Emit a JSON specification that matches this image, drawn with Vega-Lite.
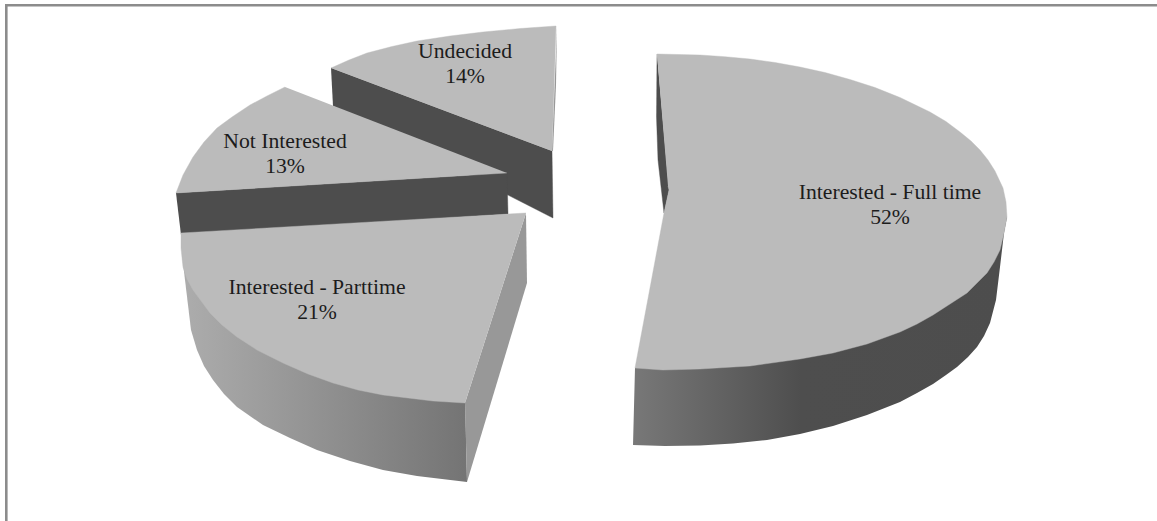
{
"$schema":"https://vega.github.io/schema/vega-lite/v6.json",
"width":1157,"height":521,"padding":0,
"autosize":{"type":"none"},
"background":"#ffffff",
"view":{"stroke":null},
"data":{"name":"slices","values":[
{"slice":"Frame","face":"frame","n":1,"across":6.3,"down":521},
{"slice":"Frame","face":"frame","n":2,"across":6.3,"down":5.2},
{"slice":"Frame","face":"frame","n":3,"across":1157,"down":5.2},

{"slice":"Undecided","face":"dark","n":1,"across":331,"down":68},
{"slice":"Undecided","face":"dark","n":2,"across":552,"down":151},
{"slice":"Undecided","face":"dark","n":3,"across":553,"down":218},
{"slice":"Undecided","face":"dark","n":4,"across":333,"down":106},
{"slice":"Not Interested","face":"dark","n":1,"across":176,"down":193},
{"slice":"Not Interested","face":"dark","n":2,"across":507,"down":173},
{"slice":"Not Interested","face":"dark","n":3,"across":508,"down":214},
{"slice":"Not Interested","face":"dark","n":4,"across":181,"down":235},
{"slice":"Interested - Full time","face":"dark","n":1,"across":657,"down":54},
{"slice":"Interested - Full time","face":"dark","n":2,"across":656.5,"down":117},
{"slice":"Interested - Full time","face":"dark","n":3,"across":658,"down":160},
{"slice":"Interested - Full time","face":"dark","n":4,"across":664,"down":213},
{"slice":"Interested - Full time","face":"dark","n":5,"across":669,"down":190},

{"slice":"Undecided","face":"cut","n":1,"across":557,"down":26},
{"slice":"Undecided","face":"cut","n":2,"across":556,"down":85},
{"slice":"Undecided","face":"cut","n":3,"across":553,"down":151},
{"slice":"Undecided","face":"cut","n":4,"across":552,"down":151},
{"slice":"Interested - Parttime","face":"cut","n":1,"across":526,"down":213},
{"slice":"Interested - Parttime","face":"cut","n":2,"across":527,"down":283},
{"slice":"Interested - Parttime","face":"cut","n":3,"across":467,"down":482},
{"slice":"Interested - Parttime","face":"cut","n":4,"across":465,"down":403},

{"slice":"Interested - Full time","face":"outer","n":1,"across":1007,"down":217},
{"slice":"Interested - Full time","face":"outer","n":2,"across":1004,"down":233},
{"slice":"Interested - Full time","face":"outer","n":3,"across":1000,"down":267},
{"slice":"Interested - Full time","face":"outer","n":4,"across":996,"down":300},
{"slice":"Interested - Full time","face":"outer","n":5,"across":990,"down":323},
{"slice":"Interested - Full time","face":"outer","n":6,"across":984,"down":336},
{"slice":"Interested - Full time","face":"outer","n":7,"across":977,"down":347},
{"slice":"Interested - Full time","face":"outer","n":8,"across":968,"down":357},
{"slice":"Interested - Full time","face":"outer","n":9,"across":957,"down":367},
{"slice":"Interested - Full time","face":"outer","n":10,"across":946,"down":375},
{"slice":"Interested - Full time","face":"outer","n":11,"across":933,"down":384},
{"slice":"Interested - Full time","face":"outer","n":12,"across":917,"down":393},
{"slice":"Interested - Full time","face":"outer","n":13,"across":900,"down":402},
{"slice":"Interested - Full time","face":"outer","n":14,"across":867,"down":415},
{"slice":"Interested - Full time","face":"outer","n":15,"across":833,"down":426},
{"slice":"Interested - Full time","face":"outer","n":16,"across":800,"down":434},
{"slice":"Interested - Full time","face":"outer","n":17,"across":767,"down":440},
{"slice":"Interested - Full time","face":"outer","n":18,"across":733,"down":443.5},
{"slice":"Interested - Full time","face":"outer","n":19,"across":700,"down":445.5},
{"slice":"Interested - Full time","face":"outer","n":20,"across":665,"down":446},
{"slice":"Interested - Full time","face":"outer","n":21,"across":633,"down":445},
{"slice":"Interested - Full time","face":"outer","n":22,"across":635,"down":368},

{"slice":"Interested - Parttime","face":"outer","n":1,"across":181,"down":235},
{"slice":"Interested - Parttime","face":"outer","n":2,"across":183,"down":263},
{"slice":"Interested - Parttime","face":"outer","n":3,"across":185,"down":280},
{"slice":"Interested - Parttime","face":"outer","n":4,"across":188,"down":305},
{"slice":"Interested - Parttime","face":"outer","n":5,"across":191,"down":330},
{"slice":"Interested - Parttime","face":"outer","n":6,"across":197,"down":350},
{"slice":"Interested - Parttime","face":"outer","n":7,"across":204,"down":366},
{"slice":"Interested - Parttime","face":"outer","n":8,"across":213,"down":380},
{"slice":"Interested - Parttime","face":"outer","n":9,"across":224,"down":394},
{"slice":"Interested - Parttime","face":"outer","n":10,"across":237,"down":407},
{"slice":"Interested - Parttime","face":"outer","n":11,"across":263,"down":425},
{"slice":"Interested - Parttime","face":"outer","n":12,"across":290,"down":438},
{"slice":"Interested - Parttime","face":"outer","n":13,"across":317,"down":450},
{"slice":"Interested - Parttime","face":"outer","n":14,"across":350,"down":461},
{"slice":"Interested - Parttime","face":"outer","n":15,"across":383,"down":470},
{"slice":"Interested - Parttime","face":"outer","n":16,"across":417,"down":476},
{"slice":"Interested - Parttime","face":"outer","n":17,"across":467,"down":482},
{"slice":"Interested - Parttime","face":"outer","n":18,"across":465,"down":395},

{"slice":"Undecided","face":"top","n":1,"across":331,"down":68},
{"slice":"Undecided","face":"top","n":2,"across":349,"down":60},
{"slice":"Undecided","face":"top","n":3,"across":367,"down":53},
{"slice":"Undecided","face":"top","n":4,"across":392,"down":46.5},
{"slice":"Undecided","face":"top","n":5,"across":417,"down":41},
{"slice":"Undecided","face":"top","n":6,"across":450,"down":36},
{"slice":"Undecided","face":"top","n":7,"across":483,"down":32},
{"slice":"Undecided","face":"top","n":8,"across":520,"down":28.5},
{"slice":"Undecided","face":"top","n":9,"across":556,"down":26},
{"slice":"Undecided","face":"top","n":10,"across":552,"down":151},

{"slice":"Not Interested","face":"top","n":1,"across":285,"down":87},
{"slice":"Not Interested","face":"top","n":2,"across":267,"down":96},
{"slice":"Not Interested","face":"top","n":3,"across":250,"down":105},
{"slice":"Not Interested","face":"top","n":4,"across":232,"down":117},
{"slice":"Not Interested","face":"top","n":5,"across":217,"down":128},
{"slice":"Not Interested","face":"top","n":6,"across":204,"down":142},
{"slice":"Not Interested","face":"top","n":7,"across":193,"down":157},
{"slice":"Not Interested","face":"top","n":8,"across":183,"down":175},
{"slice":"Not Interested","face":"top","n":9,"across":176,"down":193},
{"slice":"Not Interested","face":"top","n":10,"across":507,"down":173},

{"slice":"Interested - Parttime","face":"top","n":1,"across":526,"down":213},
{"slice":"Interested - Parttime","face":"top","n":2,"across":181,"down":233},
{"slice":"Interested - Parttime","face":"top","n":3,"across":181,"down":248},
{"slice":"Interested - Parttime","face":"top","n":4,"across":183,"down":267},
{"slice":"Interested - Parttime","face":"top","n":5,"across":187,"down":279},
{"slice":"Interested - Parttime","face":"top","n":6,"across":193,"down":290},
{"slice":"Interested - Parttime","face":"top","n":7,"across":210,"down":313},
{"slice":"Interested - Parttime","face":"top","n":8,"across":222,"down":325},
{"slice":"Interested - Parttime","face":"top","n":9,"across":237,"down":337},
{"slice":"Interested - Parttime","face":"top","n":10,"across":257,"down":350},
{"slice":"Interested - Parttime","face":"top","n":11,"across":283,"down":363},
{"slice":"Interested - Parttime","face":"top","n":12,"across":308,"down":374},
{"slice":"Interested - Parttime","face":"top","n":13,"across":333,"down":383},
{"slice":"Interested - Parttime","face":"top","n":14,"across":358,"down":390},
{"slice":"Interested - Parttime","face":"top","n":15,"across":383,"down":395},
{"slice":"Interested - Parttime","face":"top","n":16,"across":433,"down":401},
{"slice":"Interested - Parttime","face":"top","n":17,"across":465,"down":403},

{"slice":"Interested - Full time","face":"top","n":1,"across":657,"down":54},
{"slice":"Interested - Full time","face":"top","n":2,"across":700,"down":55},
{"slice":"Interested - Full time","face":"top","n":3,"across":725,"down":56.7},
{"slice":"Interested - Full time","face":"top","n":4,"across":750,"down":59},
{"slice":"Interested - Full time","face":"top","n":5,"across":775,"down":62.5},
{"slice":"Interested - Full time","face":"top","n":6,"across":800,"down":67},
{"slice":"Interested - Full time","face":"top","n":7,"across":825,"down":72.5},
{"slice":"Interested - Full time","face":"top","n":8,"across":850,"down":79.5},
{"slice":"Interested - Full time","face":"top","n":9,"across":875,"down":87.5},
{"slice":"Interested - Full time","face":"top","n":10,"across":900,"down":97.5},
{"slice":"Interested - Full time","face":"top","n":11,"across":930,"down":112},
{"slice":"Interested - Full time","face":"top","n":12,"across":946,"down":121.5},
{"slice":"Interested - Full time","face":"top","n":13,"across":960,"down":132},
{"slice":"Interested - Full time","face":"top","n":14,"across":971,"down":141},
{"slice":"Interested - Full time","face":"top","n":15,"across":980,"down":150},
{"slice":"Interested - Full time","face":"top","n":16,"across":988,"down":160},
{"slice":"Interested - Full time","face":"top","n":17,"across":995,"down":171},
{"slice":"Interested - Full time","face":"top","n":18,"across":1003,"down":188},
{"slice":"Interested - Full time","face":"top","n":19,"across":1006,"down":202},
{"slice":"Interested - Full time","face":"top","n":20,"across":1007,"down":217},
{"slice":"Interested - Full time","face":"top","n":21,"across":1004,"down":233},
{"slice":"Interested - Full time","face":"top","n":22,"across":1000,"down":250},
{"slice":"Interested - Full time","face":"top","n":23,"across":994,"down":262},
{"slice":"Interested - Full time","face":"top","n":24,"across":987,"down":273},
{"slice":"Interested - Full time","face":"top","n":25,"across":967,"down":293},
{"slice":"Interested - Full time","face":"top","n":26,"across":950,"down":304},
{"slice":"Interested - Full time","face":"top","n":27,"across":933,"down":315},
{"slice":"Interested - Full time","face":"top","n":28,"across":917,"down":324},
{"slice":"Interested - Full time","face":"top","n":29,"across":900,"down":332},
{"slice":"Interested - Full time","face":"top","n":30,"across":867,"down":344},
{"slice":"Interested - Full time","face":"top","n":31,"across":833,"down":353},
{"slice":"Interested - Full time","face":"top","n":32,"across":800,"down":359},
{"slice":"Interested - Full time","face":"top","n":33,"across":750,"down":366},
{"slice":"Interested - Full time","face":"top","n":34,"across":700,"down":369},
{"slice":"Interested - Full time","face":"top","n":35,"across":663,"down":370},
{"slice":"Interested - Full time","face":"top","n":36,"across":635,"down":368},
{"slice":"Interested - Full time","face":"top","n":37,"across":664,"down":213},
{"slice":"Interested - Full time","face":"top","n":38,"across":669,"down":190},
{"slice":"Interested - Full time","face":"top","n":39,"across":668,"down":186},

{"slice":"Interested - Full time","face":"label","share":0.52,"across":890,"down":204.5},
{"slice":"Interested - Parttime","face":"label","share":0.21,"across":317,"down":299.5},
{"slice":"Not Interested","face":"label","share":0.13,"across":285,"down":153.5},
{"slice":"Undecided","face":"label","share":0.14,"across":465,"down":63.5}
]},
"encoding":{
"x":{"field":"across","type":"quantitative","scale":{"domain":[0,1157]},"axis":null},
"y":{"field":"down","type":"quantitative","scale":{"domain":[521,0]},"axis":null},
"order":{"field":"n","type":"quantitative"},
"detail":{"field":"slice"}
},
"layer":[
{"transform":[{"filter":"datum.face==='frame'"}],"mark":{"type":"line","stroke":"#8c8c8c","strokeWidth":2.6,"fill":null,"strokeCap":"butt"}},
{"transform":[{"filter":"datum.face==='dark'"}],"mark":{"type":"line","fill":"#4d4d4d","stroke":"#4d4d4d","strokeWidth":0.4}},
{"transform":[{"filter":"datum.face==='outer' && datum.slice==='Interested - Full time'"}],"mark":{"type":"line","strokeWidth":0,"fill":{"gradient":"linear","x1":0,"y1":0,"x2":1,"y2":0,"stops":[{"offset":0,"color":"#787878"},{"offset":0.45,"color":"#4e4e4e"},{"offset":1,"color":"#4d4d4d"}]}}},
{"transform":[{"filter":"datum.face==='outer' && datum.slice==='Interested - Parttime'"}],"mark":{"type":"line","strokeWidth":0,"fill":{"gradient":"linear","x1":0,"y1":0,"x2":1,"y2":0,"stops":[{"offset":0,"color":"#adadad"},{"offset":1,"color":"#747474"}]}}},
{"transform":[{"filter":"datum.face==='cut'"}],"mark":{"type":"line","fill":"#989898","strokeWidth":0}},
{"transform":[{"filter":"datum.face==='top'"}],"mark":{"type":"line","fill":"#bbbbbb","stroke":"#bbbbbb","strokeWidth":0.4}},
{"transform":[{"filter":"datum.face==='label'"}],"mark":{"type":"text","font":"Liberation Serif","fontSize":21.7,"fill":"#1c1c1c","dy":-12.5,"align":"center","baseline":"middle"},"encoding":{"text":{"field":"slice"},"order":null,"detail":null}},
{"transform":[{"filter":"datum.face==='label'"}],"mark":{"type":"text","font":"Liberation Serif","fontSize":21.7,"fill":"#1c1c1c","dy":12.5,"align":"center","baseline":"middle"},"encoding":{"text":{"field":"share","format":".0%"},"order":null,"detail":null}}
]
}
